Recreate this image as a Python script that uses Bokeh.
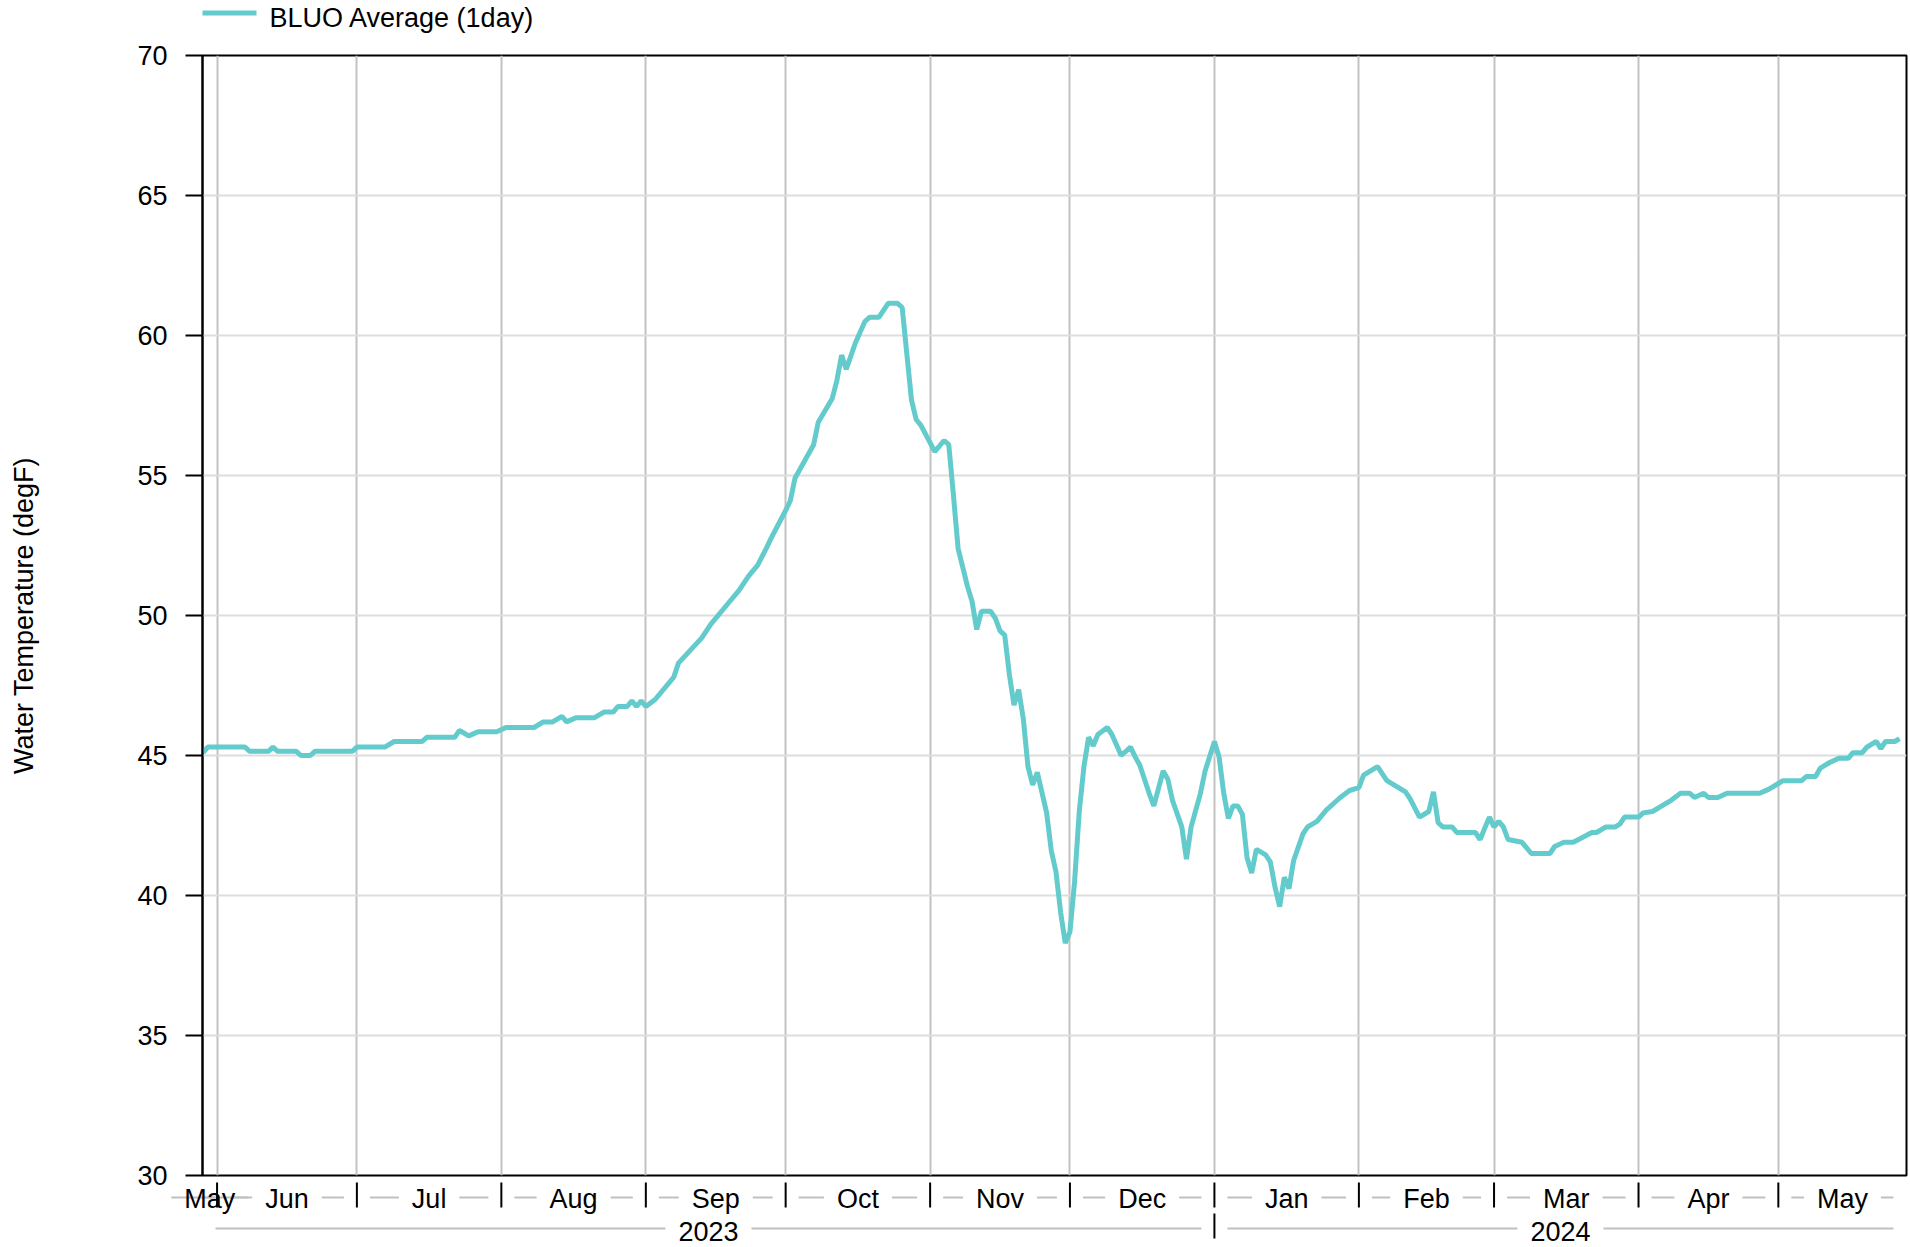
from datetime import datetime
from bokeh.plotting import figure
from bokeh.models import Range1d, FixedTicker, ColumnDataSource
from bokeh.core.properties import value
from bokeh.embed import file_html
from bokeh.resources import INLINE

# ---------------- data ----------------
dates = [
    "2023-05-29", "2023-05-30", "2023-06-07", "2023-06-08", "2023-06-12", "2023-06-13",
    "2023-06-14", "2023-06-18", "2023-06-19", "2023-06-21", "2023-06-22", "2023-06-30",
    "2023-07-01", "2023-07-07", "2023-07-09", "2023-07-15", "2023-07-16", "2023-07-22",
    "2023-07-23", "2023-07-25", "2023-07-27", "2023-07-31", "2023-08-02", "2023-08-08",
    "2023-08-10", "2023-08-12", "2023-08-14", "2023-08-15", "2023-08-17", "2023-08-21",
    "2023-08-23", "2023-08-25", "2023-08-26", "2023-08-28", "2023-08-29", "2023-08-30",
    "2023-08-31", "2023-09-01", "2023-09-03", "2023-09-07", "2023-09-08", "2023-09-13",
    "2023-09-15", "2023-09-19", "2023-09-21", "2023-09-23", "2023-09-25", "2023-09-27",
    "2023-09-28", "2023-10-01", "2023-10-02", "2023-10-03", "2023-10-05", "2023-10-07",
    "2023-10-08", "2023-10-11", "2023-10-12", "2023-10-13", "2023-10-14", "2023-10-16",
    "2023-10-18", "2023-10-19", "2023-10-21", "2023-10-23", "2023-10-25", "2023-10-26",
    "2023-10-27", "2023-10-28", "2023-10-29", "2023-10-30", "2023-11-02", "2023-11-04",
    "2023-11-05", "2023-11-06", "2023-11-07", "2023-11-09", "2023-11-10", "2023-11-11",
    "2023-11-12", "2023-11-14", "2023-11-15", "2023-11-16", "2023-11-17", "2023-11-18",
    "2023-11-19", "2023-11-20", "2023-11-21", "2023-11-22", "2023-11-23", "2023-11-24",
    "2023-11-26", "2023-11-27", "2023-11-28", "2023-11-29", "2023-11-30", "2023-12-01",
    "2023-12-02", "2023-12-03", "2023-12-04", "2023-12-05", "2023-12-06", "2023-12-07",
    "2023-12-09", "2023-12-10", "2023-12-12", "2023-12-14", "2023-12-15", "2023-12-16",
    "2023-12-18", "2023-12-19", "2023-12-21", "2023-12-22", "2023-12-23", "2023-12-25",
    "2023-12-26", "2023-12-27", "2023-12-29", "2023-12-30", "2024-01-01", "2024-01-02",
    "2024-01-03", "2024-01-04", "2024-01-05", "2024-01-06", "2024-01-07", "2024-01-08",
    "2024-01-09", "2024-01-10", "2024-01-12", "2024-01-13", "2024-01-14", "2024-01-15",
    "2024-01-16", "2024-01-17", "2024-01-18", "2024-01-20", "2024-01-21", "2024-01-23",
    "2024-01-25", "2024-01-28", "2024-01-30", "2024-02-01", "2024-02-02", "2024-02-05",
    "2024-02-07", "2024-02-11", "2024-02-12", "2024-02-14", "2024-02-16", "2024-02-17",
    "2024-02-18", "2024-02-19", "2024-02-21", "2024-02-22", "2024-02-26", "2024-02-27",
    "2024-02-29", "2024-03-01", "2024-03-02", "2024-03-03", "2024-03-04", "2024-03-07",
    "2024-03-09", "2024-03-13", "2024-03-14", "2024-03-16", "2024-03-18", "2024-03-22",
    "2024-03-23", "2024-03-25", "2024-03-27", "2024-03-28", "2024-03-29", "2024-04-01",
    "2024-04-02", "2024-04-04", "2024-04-06", "2024-04-08", "2024-04-10", "2024-04-12",
    "2024-04-13", "2024-04-15", "2024-04-16", "2024-04-18", "2024-04-20", "2024-04-27",
    "2024-04-29", "2024-05-01", "2024-05-02", "2024-05-06", "2024-05-07", "2024-05-09",
    "2024-05-10", "2024-05-12", "2024-05-14", "2024-05-16", "2024-05-17", "2024-05-19",
    "2024-05-20", "2024-05-22", "2024-05-23", "2024-05-24", "2024-05-26", "2024-05-27",
]
temps = [
    45.1, 45.3, 45.3, 45.15, 45.15, 45.3,
    45.15, 45.15, 45.0, 45.0, 45.15, 45.15,
    45.3, 45.3, 45.5, 45.5, 45.65, 45.65,
    45.9, 45.7, 45.85, 45.85, 46.0, 46.0,
    46.2, 46.2, 46.4, 46.2, 46.35, 46.35,
    46.55, 46.55, 46.75, 46.75, 46.95, 46.75,
    46.95, 46.75, 47.0, 47.8, 48.3, 49.2,
    49.7, 50.5, 50.9, 51.4, 51.8, 52.45,
    52.8, 53.75, 54.1, 54.9, 55.5, 56.1,
    56.9, 57.75, 58.4, 59.3, 58.8, 59.75,
    60.5, 60.65, 60.65, 61.15, 61.15, 61.0,
    59.35, 57.7, 57.0, 56.8, 55.85, 56.25,
    56.1, 54.3, 52.4, 51.05, 50.5, 49.5,
    50.15, 50.15, 49.9, 49.45, 49.3, 47.9,
    46.8, 47.35, 46.3, 44.6, 43.95, 44.4,
    42.95, 41.6, 40.85, 39.4, 38.3, 38.7,
    40.5, 43.0, 44.6, 45.65, 45.35, 45.75,
    46.0, 45.75, 45.0, 45.3, 44.95, 44.65,
    43.65, 43.2, 44.45, 44.15, 43.4, 42.45,
    41.3, 42.45, 43.65, 44.45, 45.5, 44.95,
    43.65, 42.75, 43.2, 43.2, 42.9, 41.35,
    40.8, 41.65, 41.45, 41.2, 40.3, 39.6,
    40.65, 40.25, 41.25, 42.2, 42.45, 42.65,
    43.05, 43.5, 43.75, 43.85, 44.3, 44.6,
    44.1, 43.7, 43.45, 42.8, 43.0, 43.7,
    42.6, 42.45, 42.45, 42.25, 42.25, 42.0,
    42.8, 42.45, 42.65, 42.45, 42.0, 41.9,
    41.5, 41.5, 41.75, 41.9, 41.9, 42.25,
    42.25, 42.45, 42.45, 42.55, 42.8, 42.8,
    42.95, 43.0, 43.2, 43.4, 43.65, 43.65,
    43.5, 43.65, 43.5, 43.5, 43.65, 43.65,
    43.8, 44.0, 44.1, 44.1, 44.25, 44.25,
    44.55, 44.75, 44.9, 44.9, 45.1, 45.1,
    45.3, 45.5, 45.25, 45.5, 45.5, 45.6,
]

series_name = "BLUO Average (1day)"
y_label = "Water Temperature (degF)"
y_ticks = [30, 35, 40, 45, 50, 55, 60, 65, 70]
month_labels = ["May", "Jun", "Jul", "Aug", "Sep", "Oct", "Nov", "Dec",
                "Jan", "Feb", "Mar", "Apr", "May"]
month_starts = ["2023-06-01", "2023-07-01", "2023-08-01", "2023-09-01",
                "2023-10-01", "2023-11-01", "2023-12-01", "2024-01-01",
                "2024-02-01", "2024-03-01", "2024-04-01", "2024-05-01"]
year_labels = ["2023", "2024"]
year_starts = ["2024-01-01"]
x_start = "2023-05-28T21:00"
x_end = "2024-05-28T12:00"

# ---------------- styling / layout ----------------
FONT = "Liberation Sans"
FS = 27
FIG_W, FIG_H = 1910, 1247
B_LEFT, B_RIGHT, B_TOP, B_BOTTOM = 202, 4, 55, 72
FRAME_W = FIG_W - B_LEFT - B_RIGHT
FRAME_H = FIG_H - B_TOP - B_BOTTOM
LINE_COLOR = "#63CBCB"
GRID_V = "#c2c2c2"
GRID_H = "#dddddd"
DASH = "#c0c0c0"

EPOCH = datetime(1970, 1, 1)


def to_ms(s):
    return int((datetime.fromisoformat(s) - EPOCH).total_seconds() * 1000)


x0, x1 = to_ms(x_start), to_ms(x_end)
MS_PER_PX = (x1 - x0) / FRAME_W
Y_PER_PX = (y_ticks[-1] - y_ticks[0]) / FRAME_H

CW = {'M': .833, 'a': .556, 'y': .5, 'J': .5, 'u': .556, 'n': .556, 'l': .222,
      'A': .667, 'g': .556, 'S': .667, 'e': .556, 'p': .556, 'O': .778, 'c': .5,
      't': .278, 'N': .722, 'o': .556, 'v': .5, 'D': .722, 'F': .611, 'b': .556,
      'r': .333}


def text_px(s):
    return sum(CW.get(ch, .556) for ch in s) * FS


def below(px):          # px below the frame bottom, in data units
    return y_ticks[0] - px * Y_PER_PX


def above(px):          # px above the frame top, in data units
    return y_ticks[-1] + px * Y_PER_PX


src = ColumnDataSource(dict(x=[datetime.fromisoformat(d) for d in dates], y=temps))

p = figure(width=FIG_W, height=FIG_H, x_axis_type="datetime",
           x_range=Range1d(x0, x1), y_range=Range1d(y_ticks[0], y_ticks[-1]),
           output_backend="svg", toolbar_location=None,
           min_border_left=B_LEFT, min_border_right=B_RIGHT,
           min_border_top=B_TOP, min_border_bottom=B_BOTTOM,
           background_fill_color="white", border_fill_color="white",
           outline_line_color="black", outline_line_width=2)

# y axis
ya = p.yaxis[0]
ya.ticker = FixedTicker(ticks=y_ticks)
ya.axis_label = y_label
ya.axis_label_text_font = FONT
ya.axis_label_text_font_size = f"{FS}px"
ya.axis_label_text_font_style = "normal"
ya.axis_label_text_color = "black"
ya.axis_label_standoff = 95
ya.major_label_text_font = FONT
ya.major_label_text_font_size = f"{FS}px"
ya.major_label_text_color = "black"
ya.major_label_standoff = 18
ya.major_tick_out = 17
ya.major_tick_in = 0
ya.major_tick_line_width = 2
ya.major_tick_line_color = "black"
ya.minor_tick_line_color = None
ya.axis_line_color = "black"
ya.axis_line_width = 2

# x axis: labels drawn as two custom rows below
p.xaxis.visible = False
p.xgrid.ticker = FixedTicker(ticks=[to_ms(m) for m in month_starts])
p.xgrid.grid_line_color = GRID_V
p.xgrid.grid_line_width = 2
p.ygrid.grid_line_color = GRID_H
p.ygrid.grid_line_width = 2

# data line
r = p.line(x="x", y="y", source=src, line_color=LINE_COLOR, line_width=5)

# month / year rows
bounds = [x0] + [to_ms(m) for m in month_starts] + [x1]
month_mid = [(bounds[i] + bounds[i + 1]) / 2 for i in range(len(month_labels))]
ybounds = [x0] + [to_ms(y) for y in year_starts] + [x1]
year_mid = [(ybounds[i] + ybounds[i + 1]) / 2 for i in range(len(year_labels))]

GAP = 13


def dash_segments(bnds, labels, y_px):
    xs0, xs1 = [], []
    for i, lab in enumerate(labels):
        a, b = bnds[i], bnds[i + 1]
        c = (a + b) / 2
        half = text_px(lab) / 2
        xs0 += [a + GAP * MS_PER_PX, c + (half + GAP) * MS_PER_PX]
        xs1 += [c - (half + GAP) * MS_PER_PX, b - GAP * MS_PER_PX]
    ys = [below(y_px)] * len(xs0)
    return xs0, xs1, ys


mx0, mx1, my = dash_segments(bounds, month_labels, 22)
yx0, yx1, yy = dash_segments(ybounds, year_labels, 53)
p.segment(x0=mx0 + yx0, x1=mx1 + yx1, y0=my + yy, y1=my + yy,
          line_color=DASH, line_width=2, level="overlay")

tick_x = [to_ms(m) for m in month_starts]
p.segment(x0=tick_x, x1=tick_x, y0=[below(7)] * len(tick_x), y1=[below(32)] * len(tick_x),
          line_color="black", line_width=2, level="overlay")
ytick_x = [to_ms(y) for y in year_starts]
p.segment(x0=ytick_x, x1=ytick_x, y0=[below(38)] * len(ytick_x), y1=[below(63)] * len(ytick_x),
          line_color="black", line_width=2, level="overlay")

p.text(x=month_mid, y=[below(23)] * len(month_mid), text=month_labels,
       text_align="center", text_baseline="middle", text_color="black",
       text_font=value(FONT), text_font_size=f"{FS}px", level="overlay")
p.text(x=year_mid, y=[below(56)] * len(year_mid), text=year_labels,
       text_align="center", text_baseline="middle", text_color="black",
       text_font=value(FONT), text_font_size=f"{FS}px", level="overlay")

# legend above the frame, at the left
p.segment(x0=[x0], x1=[x0 + 54 * MS_PER_PX], y0=[above(42.5)], y1=[above(42.5)],
          line_color=LINE_COLOR, line_width=5, level="overlay")
p.text(x=[x0 + 67 * MS_PER_PX], y=[above(38)], text=[series_name],
       text_align="left", text_baseline="middle", text_color="black",
       text_font=value(FONT), text_font_size=f"{FS}px", level="overlay")

open("out.html", "w").write(file_html(p, INLINE))
